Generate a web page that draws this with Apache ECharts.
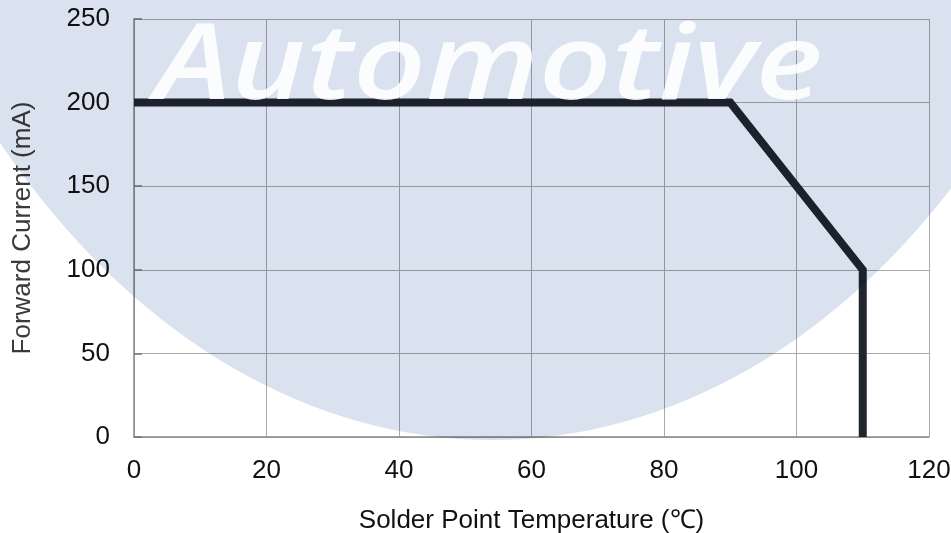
<!DOCTYPE html>
<html>
<head>
<meta charset="utf-8">
<script src="https://cdn.jsdelivr.net/npm/echarts@6/dist/echarts.min.js"></script>
<style>
  html, body { margin: 0; padding: 0; background: #fff; }
  #container { width: 951px; height: 533px; }
</style>
</head>
<body>
<div id="container"></div>
<script>
var dom = document.getElementById('container');
var myChart = echarts.init(dom, null, { renderer: 'canvas' });

// derating curve: solder point temperature vs max forward current
const temps = [0, 90, 110, 110];
const currents = [200, 200, 100, 0];

const xTicks = { min: 0, max: 120, interval: 20 };
const yTicks = { min: 0, max: 250, interval: 50 };

const lineColor = '#1f2630';
const gridColor = '#ababab';
const labelFont = 'Liberation Sans, Arial, sans-serif';

var option = {
  animation: false,
  grid: { left: 134, right: 22, top: 19, bottom: 96, containLabel: false, outerBoundsMode: 'none' },
  xAxis: {
    type: 'value',
    min: xTicks.min,
    max: xTicks.max,
    interval: xTicks.interval,
    name: 'Solder Point Temperature (℃)',
    nameLocation: 'middle',
    nameGap: 71,
    nameTextStyle: { fontSize: 26, color: '#111', fontFamily: labelFont },
    axisLine: { lineStyle: { color: '#888', width: 1.5 } },
    axisTick: { show: false },
    axisLabel: { fontSize: 26, color: '#111', margin: 21, fontFamily: labelFont },
    splitLine: { show: true, lineStyle: { color: gridColor, width: 1 } }
  },
  yAxis: {
    type: 'value',
    min: yTicks.min,
    max: yTicks.max,
    interval: yTicks.interval,
    name: 'Forward Current (mA)',
    nameLocation: 'middle',
    nameGap: 98,
    nameTextStyle: { fontSize: 26, color: '#3a3a3a', fontFamily: labelFont },
    axisLine: { show: true, lineStyle: { color: '#888', width: 1.5 } },
    axisTick: { show: true, inside: true, length: 8, lineStyle: { color: '#777', width: 1.5 } },
    axisLabel: { fontSize: 26, color: '#111', margin: 24, fontFamily: labelFont },
    splitLine: { show: true, lineStyle: { color: gridColor, width: 1 } }
  },
  series: [{
    type: 'line',
    data: temps.map((t, i) => [t, currents[i]]),
    showSymbol: false,
    symbol: 'none',
    lineStyle: { color: lineColor, width: 8, join: 'miter', cap: 'butt' },
    z: 3
  }],
  graphic: [
    {
      // big pale-blue backdrop, multiplied over the chart
      type: 'circle',
      silent: true,
      x: 492,
      y: -496,
      scaleX: 0.719,
      scaleY: 1,
      shape: { cx: 0, cy: 0, r: 936 },
      style: { fill: '#d9e2ee', blend: 'multiply' },
      z: 50
    },
    {
      type: 'text',
      silent: true,
      x: 489,
      y: 17,
      scaleX: 1.21,
      style: {
        text: 'Automotive',
        fill: 'rgba(255,255,255,0.88)',
        fontFamily: 'Open Sans',
        fontStyle: 'italic',
        fontWeight: 600,
        fontSize: 105,
        textAlign: 'center',
        textVerticalAlign: 'top'
      },
      z: 60
    }
  ]
};

if (option && typeof option === 'object') {
  myChart.setOption(option);
}

window.addEventListener('resize', myChart.resize);
</script>
</body>
</html>
